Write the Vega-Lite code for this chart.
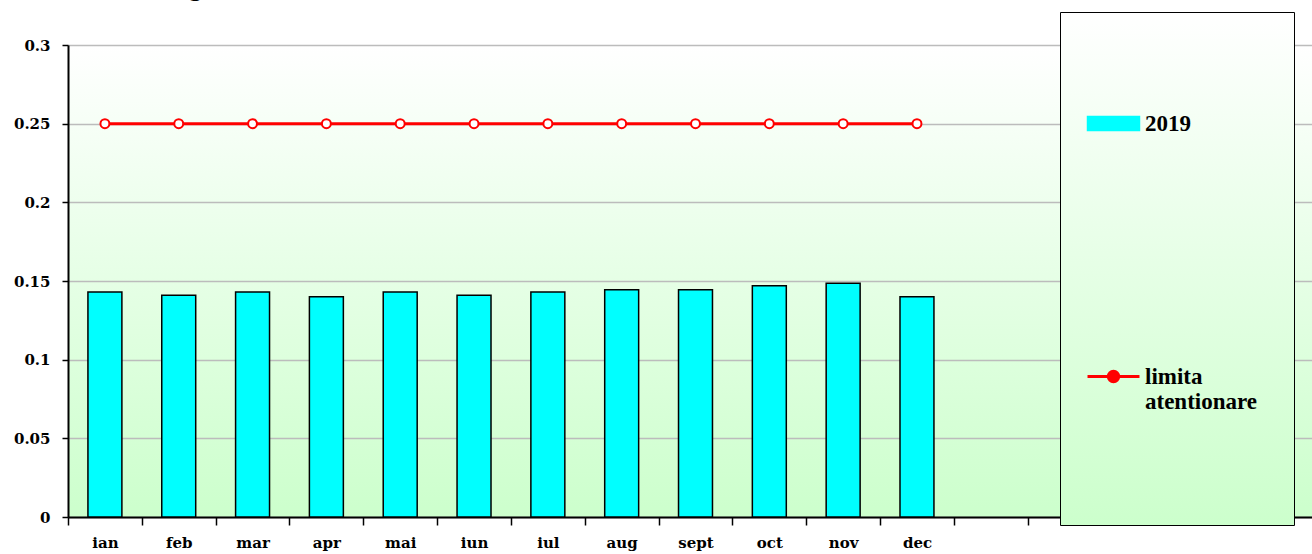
{
  "$schema": "https://vega.github.io/schema/vega-lite/v6.json",
  "autosize": {"type": "none"},
  "padding": {"left": 68, "top": 45, "right": 0, "bottom": 37},
  "width": 1244,
  "height": 472,
  "background": "#ffffff",
  "config": {
    "view": {
      "stroke": null,
      "fill": {"gradient": "linear", "x1": 0, "y1": 0, "x2": 0, "y2": 1,
        "stops": [{"offset": 0, "color": "#ffffff"}, {"offset": 1, "color": "#ccffcc"}]}
    }
  },
  "data": {
    "values": [
      {"month": "ian", "value": 0.143, "limit": 0.25},
      {"month": "feb", "value": 0.141, "limit": 0.25},
      {"month": "mar", "value": 0.143, "limit": 0.25},
      {"month": "apr", "value": 0.14, "limit": 0.25},
      {"month": "mai", "value": 0.143, "limit": 0.25},
      {"month": "iun", "value": 0.141, "limit": 0.25},
      {"month": "iul", "value": 0.143, "limit": 0.25},
      {"month": "aug", "value": 0.1445, "limit": 0.25},
      {"month": "sept", "value": 0.1445, "limit": 0.25},
      {"month": "oct", "value": 0.147, "limit": 0.25},
      {"month": "nov", "value": 0.1485, "limit": 0.25},
      {"month": "dec", "value": 0.14, "limit": 0.25}
    ]
  },
  "encoding": {
    "x": {
      "field": "month", "type": "nominal", "sort": null,
      "scale": {
        "domain": ["ian", "feb", "mar", "apr", "mai", "iun", "iul", "aug", "sept", "oct", "nov", "dec", "_1", "_2", "_3", "_4", "_5"],
        "range": [0, 1255], "paddingInner": 0, "paddingOuter": 0
      },
      "axis": {
        "title": null,
        "labelExpr": "slice(datum.label, 0, 1) == '_' ? '' : datum.label",
        "labelAngle": 0,
        "labelFont": "DejaVu Serif", "labelFontWeight": "bold", "labelFontSize": 15, "labelColor": "#000000",
        "labelPadding": 10,
        "tickBand": "extent", "tickSize": 8, "tickColor": "#000000", "tickWidth": 1.5,
        "domainColor": "#000000", "domainWidth": 2,
        "grid": false
      }
    }
  },
  "layer": [
    {
      "mark": {"type": "bar", "width": {"band": 0.46}, "stroke": "#000000", "strokeWidth": 1.5},
      "encoding": {
        "y": {
          "field": "value", "type": "quantitative",
          "scale": {"domain": [0, 0.3], "nice": false},
          "axis": {
            "values": [0, 0.05, 0.1, 0.15, 0.2, 0.25, 0.3],
            "format": "~g",
            "title": "[mg/mc]",
            "titleAngle": 0, "titleAlign": "left", "titleBaseline": "alphabetic",
            "titleX": 90, "titleY": -50,
            "titleFont": "Liberation Serif", "titleFontWeight": "bold", "titleFontSize": 26, "titleColor": "#000000",
            "labelFont": "DejaVu Serif", "labelFontWeight": "bold", "labelFontSize": 15, "labelColor": "#000000",
            "labelPadding": 12,
            "tickSize": 6, "tickColor": "#000000", "tickWidth": 1.5,
            "domainColor": "#000000", "domainWidth": 2,
            "grid": true, "gridColor": "#bcbcbc", "gridWidth": 1.5
          }
        },
        "color": {
          "datum": "2019",
          "scale": {"domain": ["2019", "limita atentionare"], "range": ["#00ffff", "#ff0000"]},
          "legend": {
            "orient": "none", "legendX": 992, "legendY": -33,
            "title": " ", "titleFontSize": 10, "titlePadding": 54,
            "padding": 36,
            "fillColor": {"expr": "{gradient: 'linear', x1: 0, y1: 0, x2: 0, y2: 1, stops: [{offset: 0, color: '#ffffff'}, {offset: 1, color: '#ccffcc'}]}"},
            "strokeColor": "#000000",
            "rowPadding": 229,
            "symbolSize": 2700, "symbolOffset": 6,
            "symbolType": {"expr": "datum.value == '2019' ? 'M-1,-0.27H1V0.27H-1Z' : 'M-1,0H-0.2M0.2,0H1M0.2,0A0.2,0.2,0,1,1,-0.2,0A0.2,0.2,0,1,1,0.2,0'"},
            "symbolStrokeColor": {"expr": "datum.value == '2019' ? '#000000' : '#ff0000'"},
            "symbolStrokeWidth": {"expr": "datum.value == '2019' ? 1.5 : 3"},
            "symbolOpacity": 1,
            "labelFont": "Liberation Serif", "labelFontWeight": "bold", "labelFontSize": 23, "labelColor": "#000000",
            "labelOffset": 20, "labelLimit": 300, "labelBaseline": "middle",
            "labelExpr": "datum.value == 'limita atentionare' ? ['limita', 'atentionare', '', '', ''] : datum.label"
          }
        }
      }
    },
    {
      "mark": {"type": "line", "strokeWidth": 3,
        "point": {"filled": false, "fill": "#ffffff", "size": 80, "strokeWidth": 2}},
      "encoding": {
        "y": {
          "field": "limit", "type": "quantitative",
          "scale": {"domain": [0, 0.3], "nice": false},
          "axis": {
            "values": [0, 0.05, 0.1, 0.15, 0.2, 0.25, 0.3],
            "format": "~g",
            "title": "[mg/mc]",
            "titleAngle": 0, "titleAlign": "left", "titleBaseline": "alphabetic",
            "titleX": 90, "titleY": -50,
            "titleFont": "Liberation Serif", "titleFontWeight": "bold", "titleFontSize": 26, "titleColor": "#000000",
            "labelFont": "DejaVu Serif", "labelFontWeight": "bold", "labelFontSize": 15, "labelColor": "#000000",
            "labelPadding": 12,
            "tickSize": 6, "tickColor": "#000000", "tickWidth": 1.5,
            "domainColor": "#000000", "domainWidth": 2,
            "grid": true, "gridColor": "#bcbcbc", "gridWidth": 1.5
          }
        },
        "color": {"datum": "limita atentionare"}
      }
    }
  ]
}
